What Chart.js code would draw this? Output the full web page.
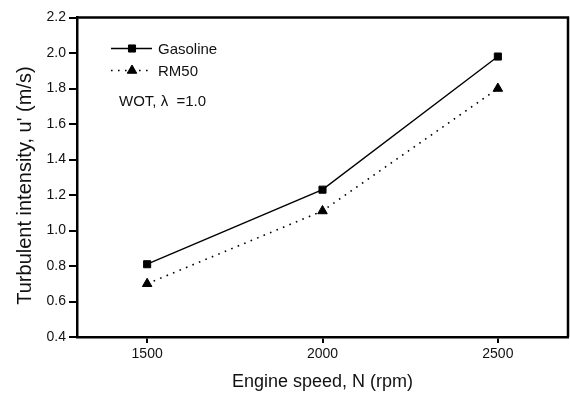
<!DOCTYPE html>
<html>
<head>
<meta charset="utf-8">
<script src="https://cdn.jsdelivr.net/npm/chart.js@4/dist/chart.umd.min.js"></script>
<style>
html,body{margin:0;padding:0;background:#fff;}
#wrap{width:570px;height:395px;}
</style>
</head>
<body>
<div id="wrap"><canvas id="c" width="570" height="395"></canvas></div>
<script>
// ---- data ----
const speeds = [1500, 2000, 2500];
const gasoline = [0.81, 1.23, 1.98];
const rm50 = [0.70, 1.11, 1.80];
const xTickValues = [1500, 2000, 2500];
const yTickValues = [0.4, 0.6, 0.8, 1.0, 1.2, 1.4, 1.6, 1.8, 2.0, 2.2];
const seriesNames = ['Gasoline', 'RM50'];
const noteText = 'WOT, \u03BB  =1.0';
const xTitle = 'Engine speed, N (rpm)';
const yTitle = "Turbulent intensity, u' (m/s)   ";

const FONT = "'Liberation Sans', Arial, Helvetica, sans-serif";

const frameAndLegend = {
  id: 'frameAndLegend',
  afterDatasetsDraw(chart) {
    const ctx = chart.ctx;
    const a = chart.chartArea;
    ctx.save();
    ctx.strokeStyle = '#000';
    ctx.lineWidth = 2.5;
    ctx.setLineDash([]);
    ctx.beginPath();
    ctx.moveTo(a.left, a.top);
    ctx.lineTo(a.right, a.top);
    ctx.lineTo(a.right, a.bottom);
    ctx.stroke();

    const lx0 = a.left + 34, lx1 = a.left + 75, mx = a.left + 55, tx = a.left + 81;
    chart.data.datasets.forEach((ds, i) => {
      const y = a.top + 31 + i * 22;
      ctx.strokeStyle = ds.borderColor;
      ctx.lineWidth = ds.borderWidth;
      ctx.setLineDash(ds.borderDash || []);
      ctx.beginPath();
      ctx.moveTo(lx0, y);
      ctx.lineTo(lx1, y);
      ctx.stroke();
      ctx.setLineDash([]);
      ctx.fillStyle = ds.pointBackgroundColor;
      ctx.strokeStyle = ds.pointBorderColor;
      ctx.lineWidth = ds.pointBorderWidth;
      Chart.helpers.drawPoint(ctx, {pointStyle: ds.pointStyle, radius: ds.pointRadius, rotation: 0, borderWidth: ds.pointBorderWidth}, mx, y);
      ctx.fillStyle = '#111';
      ctx.font = '15px ' + FONT;
      ctx.textBaseline = 'middle';
      ctx.textAlign = 'left';
      ctx.fillText(ds.label, tx, y + 1);
    });
    ctx.fillStyle = '#111';
    ctx.font = '15px ' + FONT;
    ctx.textBaseline = 'middle';
    ctx.fillText(noteText, a.left + 42, a.top + 84);
    ctx.restore();
  }
};

new Chart(document.getElementById('c'), {
  type: 'line',
  data: {
    datasets: [
      {
        label: seriesNames[0],
        data: speeds.map((s, i) => ({x: s, y: gasoline[i]})),
        borderColor: '#000',
        borderWidth: 1.4,
        pointStyle: 'rect',
        pointRadius: 5,
        pointBackgroundColor: '#000',
        pointBorderColor: '#000',
        pointBorderWidth: 1,
        tension: 0
      },
      {
        label: seriesNames[1],
        data: speeds.map((s, i) => ({x: s, y: rm50[i]})),
        borderColor: '#000',
        borderWidth: 1.6,
        borderDash: [1.6, 5.4],
        pointStyle: 'triangle',
        pointRadius: 5.5,
        pointBackgroundColor: '#000',
        pointBorderColor: '#000',
        pointBorderWidth: 1,
        tension: 0
      }
    ]
  },
  options: {
    responsive: false,
    animation: false,
    layout: {autoPadding: false, padding: {top: 17.5, right: 2, left: 0, bottom: 0}},
    plugins: {legend: {display: false}, tooltip: {enabled: false}},
    scales: {
      x: {
        type: 'linear',
        min: 1300, max: 2700,
        afterBuildTicks: s => { s.ticks = xTickValues.map(v => ({value: v})); },
        afterFit: s => { s.height = 58; s.paddingLeft = 0; s.paddingRight = 0; },
        ticks: {color: '#111', font: {size: 14, family: FONT}, padding: 3, maxRotation: 0, callback: v => String(v)},
        grid: {drawOnChartArea: false, drawTicks: true, tickLength: 6, color: '#000', lineWidth: 2},
        border: {display: true, color: '#000', width: 2.5},
        title: {display: true, text: xTitle, color: '#111', font: {size: 18, family: FONT}, padding: {top: 0, bottom: 2}}
      },
      y: {
        type: 'linear',
        min: 0.4, max: 2.2,
        afterBuildTicks: s => { s.ticks = yTickValues.map(v => ({value: v})); },
        afterFit: s => { s.width = 77; s.paddingTop = 0; s.paddingBottom = 0; },
        ticks: {color: '#111', font: {size: 14, family: FONT}, padding: 3, callback: v => Number(v).toFixed(1)},
        grid: {drawOnChartArea: false, drawTicks: true, tickLength: 8, color: '#000', lineWidth: 2},
        border: {display: true, color: '#000', width: 2.5},
        title: {display: true, text: yTitle, color: '#111', font: {size: 20, family: FONT}, padding: {top: 13, bottom: 0}}
      }
    }
  },
  plugins: [frameAndLegend]
});
</script>
</body>
</html>
